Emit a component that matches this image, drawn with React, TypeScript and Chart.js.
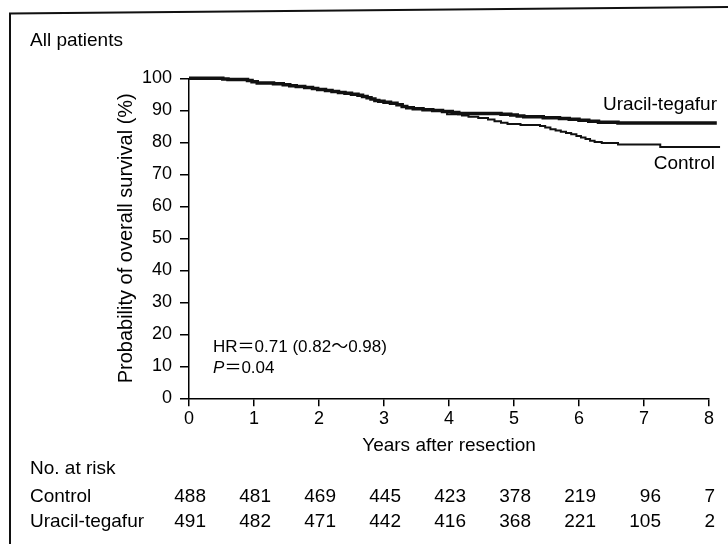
import React, { useEffect, useRef } from "react";
import { Chart, registerables } from "chart.js";

Chart.register(...registerables);

// ---- data ----
const yearTicks = [0, 1, 2, 3, 4, 5, 6, 7, 8];
const controlAtRisk = [488, 481, 469, 445, 423, 378, 219, 96, 7];
const uftAtRisk = [491, 482, 471, 442, 416, 368, 221, 105, 2];

const uftTimes = [0, 0.52, 0.6, 0.9, 0.97, 1.05, 1.3, 1.45, 1.55, 1.65, 1.78, 1.9, 1.98, 2.1, 2.2, 2.3, 2.4, 2.5, 2.6, 2.67, 2.74, 2.8, 2.86, 2.92, 3.0, 3.1, 3.2, 3.28, 3.35, 3.45, 3.6, 3.75, 3.9, 4.05, 4.15, 4.8, 4.95, 5.05, 5.15, 5.45, 5.7, 5.85, 6.0, 6.15, 6.3, 6.6, 8.12];
const uftSurv = [100, 99.8, 99.6, 99.3, 98.9, 98.5, 98.3, 98.0, 97.7, 97.4, 97.1, 96.8, 96.5, 96.2, 95.9, 95.6, 95.3, 95.0, 94.7, 94.3, 93.9, 93.5, 93.1, 92.8, 92.5, 92.2, 91.7, 91.2, 90.8, 90.5, 90.2, 89.9, 89.6, 89.3, 89.0, 88.8, 88.5, 88.2, 88.0, 87.7, 87.4, 87.2, 86.9, 86.6, 86.3, 86.0, 86.0];

const ctrlTimes = [0, 0.52, 0.6, 0.9, 0.97, 1.05, 1.3, 1.45, 1.55, 1.65, 1.78, 1.9, 1.98, 2.1, 2.2, 2.3, 2.4, 2.5, 2.6, 2.67, 2.74, 2.8, 2.86, 2.92, 3.0, 3.1, 3.2, 3.28, 3.35, 3.45, 3.6, 3.75, 3.9, 3.97, 4.2, 4.3, 4.45, 4.6, 4.7, 4.8, 4.9, 5.1, 5.4, 5.48, 5.56, 5.64, 5.72, 5.8, 5.88, 5.96, 6.03, 6.1, 6.17, 6.24, 6.35, 6.6, 7.25, 8.17];
const ctrlSurv = [100, 99.8, 99.6, 99.3, 98.9, 98.5, 98.3, 98.0, 97.7, 97.4, 97.1, 96.8, 96.5, 96.2, 95.9, 95.6, 95.3, 95.0, 94.7, 94.3, 93.9, 93.5, 93.1, 92.8, 92.5, 92.2, 91.7, 91.2, 90.8, 90.5, 90.2, 89.9, 89.6, 88.8, 88.4, 88.0, 87.6, 87.1, 86.6, 86.1, 85.7, 85.4, 85.1, 84.6, 84.1, 83.7, 83.3, 82.9, 82.5, 82.0, 81.5, 81.0, 80.5, 80.1, 79.8, 79.3, 78.5, 78.5];

const FONT = '"Liberation Sans", Arial, "Noto Sans CJK JP", sans-serif';

const textPlugin = {
  id: "texts",
  beforeDraw(chart: any) {
    const ctx = chart.ctx;
    ctx.save();
    ctx.fillStyle = "#fff";
    ctx.fillRect(0, 0, chart.width, chart.height);
    ctx.restore();
  },
  afterDraw(chart: any) {
    const ctx = chart.ctx;
    const xs = chart.scales.x;
    const ys = chart.scales.y;
    ctx.save();
    // frame
    ctx.strokeStyle = "#111";
    ctx.lineWidth = 2;
    ctx.beginPath();
    ctx.moveTo(728, 7);
    ctx.lineTo(10, 13.5);
    ctx.lineTo(10, 544);
    ctx.stroke();

    ctx.fillStyle = "#000";
    ctx.textBaseline = "alphabetic";
    ctx.textAlign = "left";
    ctx.font = `19px ${FONT}`;
    ctx.fillText("All patients", 30, 46);

    // curve labels
    ctx.textAlign = "right";
    ctx.fillText("Uracil-tegafur", xs.getPixelForValue(8) + 8, ys.getPixelForValue(90.1));
    ctx.fillText("Control", xs.getPixelForValue(8) + 6, ys.getPixelForValue(71.7));

    // HR annotation
    ctx.textAlign = "left";
    ctx.font = `17px ${FONT}`;
    const ax = xs.getPixelForValue(0.37);
    ctx.fillText("HR＝0.71 (0.82〜0.98)", ax, ys.getPixelForValue(14.6));
    ctx.font = `italic 17px ${FONT}`;
    const py = ys.getPixelForValue(7.8);
    ctx.fillText("P", ax, py);
    const pw = ctx.measureText("P").width;
    ctx.font = `17px ${FONT}`;
    ctx.fillText("＝0.04", ax + pw, py);

    // at-risk table
    ctx.font = `19px ${FONT}`;
    ctx.fillText("No. at risk", 30, 474);
    ctx.fillText("Control", 30, 502);
    ctx.fillText("Uracil-tegafur", 30, 527);
    ctx.textAlign = "right";
    const right = chart.chartArea.right;
    yearTicks.forEach((yr, i) => {
      const px = Math.min(xs.getPixelForValue(yr) + 17, right + 6);
      ctx.fillText(String(controlAtRisk[i]), px, 502);
      ctx.fillText(String(uftAtRisk[i]), px, 527);
    });
    ctx.restore();
  },
};

export default function App() {
  const ref = useRef<HTMLCanvasElement | null>(null);
  useEffect(() => {
    if (!ref.current) return;
    const chart = new Chart(ref.current, {
      type: "line",
      data: {
        datasets: [
          {
            label: "Uracil-tegafur",
            data: uftTimes.map((t, i) => ({ x: t, y: uftSurv[i] })),
            stepped: "before",
            borderColor: "#111",
            borderWidth: 3.5,
            pointRadius: 0,
            fill: false,
            clip: false as any,
            order: 1,
          },
          {
            label: "Control",
            data: ctrlTimes.map((t, i) => ({ x: t, y: ctrlSurv[i] })),
            stepped: "before",
            borderColor: "#111",
            borderWidth: 2,
            pointRadius: 0,
            fill: false,
            clip: false as any,
            order: 2,
          },
        ],
      },
      options: {
        animation: false,
        responsive: false,
        layout: { padding: { left: 0, top: 78.3, right: 19, bottom: 85.7 } },
        plugins: { legend: { display: false }, tooltip: { enabled: false } },
        scales: {
          x: {
            type: "linear",
            min: 0,
            max: 8,
            ticks: { stepSize: 1, color: "#000", font: { family: FONT, size: 18 }, padding: 2, maxRotation: 0 },
            grid: { drawOnChartArea: false, drawTicks: true, tickLength: 8, color: "#000", lineWidth: 1.5 },
            border: { display: true, color: "#000", width: 1.5 },
            title: { display: true, text: "Years after resection", color: "#000", font: { family: FONT, size: 19 }, padding: { top: 0, bottom: 1.4 } },
            afterFit: (s: any) => { s.height = 60; },
          },
          y: {
            type: "linear",
            min: 0,
            max: 100,
            ticks: { stepSize: 10, color: "#000", font: { family: FONT, size: 18 }, padding: 8 },
            grid: { drawOnChartArea: false, drawTicks: true, tickLength: 9, color: "#000", lineWidth: 1.5 },
            border: { display: true, color: "#000", width: 1.5 },
            title: { display: true, text: "Probability of overall survival (%)", color: "#000", font: { family: FONT, size: 20 }, padding: { top: 114, bottom: 0 } },
            afterFit: (s: any) => { s.width = 189; },
          },
        },
      } as any,
      plugins: [textPlugin],
    });
    return () => chart.destroy();
  }, []);
  return (
    <div style={{ position: "fixed", left: 0, top: 0, width: 728, height: 544, background: "#fff" }}>
      <canvas ref={ref} width={728} height={544} style={{ display: "block", width: 728, height: 544 }} />
    </div>
  );
}
